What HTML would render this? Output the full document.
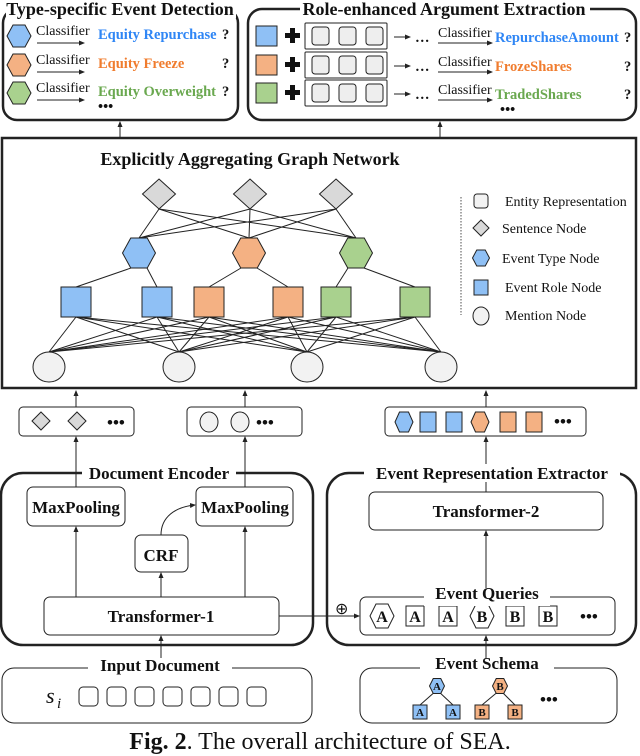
<!DOCTYPE html>
<html><head><meta charset="utf-8"><style>
html,body{margin:0;padding:0;background:#fff}
svg{display:block}
text{font-family:"Liberation Serif",serif}
.b{font-weight:bold}
</style></head><body>
<svg id="s" width="640" height="756" viewBox="0 0 640 756" xmlns="http://www.w3.org/2000/svg">
<defs><marker id="ah" markerWidth="6" markerHeight="6" refX="5" refY="3" orient="auto"><path d="M0,0.5 L6,3 L0,5.5 z" fill="#222"/></marker></defs>
<g id="g" stroke="#222" fill="none"></g>
<g id="t" fill="#111">
<rect x="6" y="0" width="230" height="18" fill="#fff" stroke="none"/>
<text x="120" y="15" font-size="18" class="b" text-anchor="middle">Type-specific Event Detection</text>
<rect x="300" y="0" width="290" height="18" fill="#fff" stroke="none"/>
<text x="444" y="15" font-size="18" class="b" text-anchor="middle">Role-enhanced Argument Extraction</text>
<g font-size="14">
<text x="36" y="35">Classifier</text><text x="36" y="64">Classifier</text><text x="36" y="92">Classifier</text>
<text x="438" y="37">Classifier</text><text x="438" y="66">Classifier</text><text x="438" y="94">Classifier</text>
</g>
<g font-size="14.5" class="b">
<text x="98" y="39" fill="#2f86f5">Equity Repurchase</text>
<text x="98" y="68" fill="#f07c2e">Equity Freeze</text>
<text x="98" y="96" fill="#6aa84f">Equity Overweight</text>
<text x="495" y="42" fill="#2f86f5">RepurchaseAmount</text>
<text x="495" y="71" fill="#f07c2e">FrozeShares</text>
<text x="495" y="99" fill="#6aa84f">TradedShares</text>
<text x="222" y="39">?</text><text x="222" y="68">?</text><text x="222" y="96">?</text>
<text x="624" y="42">?</text><text x="624" y="71">?</text><text x="624" y="99">?</text>
<text x="98" y="111">•••</text><text x="500" y="114">•••</text>
<text x="415" y="42">…</text><text x="415" y="71">…</text><text x="415" y="99">…</text>
</g>
<text x="250" y="165" font-size="18" class="b" text-anchor="middle">Explicitly Aggregating Graph Network</text>
<g font-size="14">
<text x="505" y="206">Entity Representation</text>
<text x="502" y="233">Sentence Node</text>
<text x="502" y="263">Event Type Node</text>
<text x="505" y="292">Event Role Node</text>
<text x="505" y="320">Mention Node</text>
</g>
<g font-size="17" class="b">
<text x="107" y="428">•••</text><text x="256" y="428">•••</text><text x="554" y="427">•••</text>
<rect x="82" y="464" width="154" height="18" fill="#fff"/>
<text x="159" y="479" text-anchor="middle">Document Encoder</text>
<rect x="364" y="464" width="256" height="18" fill="#fff"/>
<text x="492" y="479" text-anchor="middle">Event Representation Extractor</text>
<text x="76" y="513" text-anchor="middle">MaxPooling</text>
<text x="245" y="513" text-anchor="middle">MaxPooling</text>
<text x="161" y="561" text-anchor="middle">CRF</text>
<text x="161" y="622" text-anchor="middle">Transformer-1</text>
<text x="486" y="517" text-anchor="middle">Transformer-2</text>
<rect x="424" y="588" width="126" height="18" fill="#fff"/>
<text x="487" y="599" text-anchor="middle">Event Queries</text>
<text x="580" y="622">•••</text>
<rect x="88" y="658" width="144" height="18" fill="#fff"/>
<text x="160" y="671" text-anchor="middle">Input Document</text>
<rect x="420" y="658" width="134" height="18" fill="#fff"/>
<text x="487" y="669" text-anchor="middle">Event Schema</text>
<text x="540" y="705">•••</text>
</g>
<text x="335" y="614" font-size="16">⊕</text>
<text x="46" y="703" font-size="22" font-style="italic">s</text><text x="57" y="708" font-size="15" font-style="italic">i</text>
<g font-size="16" class="b" text-anchor="middle">
<text x="382" y="622">A</text><text x="415" y="622">A</text><text x="448" y="622">A</text>
<text x="482" y="622">B</text><text x="515" y="622">B</text><text x="548" y="622">B</text>
</g>
<g font-size="11" class="b" text-anchor="middle">
<text x="437" y="690">A</text><text x="420" y="716">A</text><text x="453" y="716">A</text>
<text x="500" y="690">B</text><text x="482" y="716">B</text><text x="515" y="716">B</text>
</g>
<text x="320" y="749" font-size="24" text-anchor="middle"><tspan font-weight="bold">Fig. 2</tspan>.  The overall architecture of SEA.</text>
</g>
</svg>
<script>
var g=document.getElementById('g'),NS='http://www.w3.org/2000/svg';
function el(n,a,p){var e=document.createElementNS(NS,n);for(var k in a)e.setAttribute(k,a[k]);(p||g).appendChild(e);return e;}
function rr(x,y,w,h,r,sw,f){return el('rect',{x:x,y:y,width:w,height:h,rx:r,'stroke-width':sw||1,fill:f||'#fff'});}
function ln(x1,y1,x2,y2,sw,arr){var a={x1:x1,y1:y1,x2:x2,y2:y2,'stroke-width':sw||1};if(arr)a['marker-end']='url(#ah)';return el('line',a);}
function hex(cx,cy,w,h,f,sw){var p=[[cx-w/2,cy],[cx-w/4,cy-h/2],[cx+w/4,cy-h/2],[cx+w/2,cy],[cx+w/4,cy+h/2],[cx-w/4,cy+h/2]];return el('polygon',{points:p.join(' '),fill:f,'stroke-width':sw||1});}
function dia(cx,cy,w,h,f){return el('polygon',{points:[[cx,cy-h/2],[cx+w/2,cy],[cx,cy+h/2],[cx-w/2,cy]].join(' '),fill:f});}
var B='#8fc0f5',O='#f4b183',G='#a9d18e';
ln(120,138,120,122,1,1);ln(440,138,440,122,1,1);
rr(3,9,235,111,14,2.5);rr(248,9,388,111,14,2.5);
var ys=[36,65,93],cols=[B,O,G];
for(var i=0;i<3;i++){var y=ys[i];
 hex(19,y,24,22,cols[i]);ln(37,y+7,84,y+7,1,1);
 rr(256,y-10,21,20,0,1,cols[i]);
 el('path',{d:'M290,'+(y-8)+'h5v5h5v5h-5v5h-5v-5h-5v-5h5z',fill:'#111',stroke:'none'});
 rr(305,y-13,82,26,1,1);
 for(var j=0;j<3;j++)rr(312+j*27,y-9,17,18,3,1,'#eee');
 ln(394,y+1,410,y+1,1,1);ln(438,y+7,492,y+7,1,1);
}
rr(2,138,634,250,0,2.5);
var D=[159,250,336],H=[139,249,356],S=[76,157,209,288,336,415],C=[49,179,307,441];
for(var a=0;a<3;a++)for(var b=0;b<3;b++)ln(D[a],209,H[b],238);
for(var a=0;a<3;a++){ln(H[a]-8,268,S[2*a],287);ln(H[a]+8,268,S[2*a+1],287);}
for(var a=0;a<6;a++)for(var b=0;b<4;b++)ln(S[a],317,C[b],352);
for(var a=0;a<3;a++)dia(D[a],194,33,30,'#d9d9d9');
for(var a=0;a<3;a++)hex(H[a],253,33,30,cols[a]);
for(var a=0;a<6;a++)rr(S[a]-15,287,30,30,0,1,cols[Math.floor(a/2)]);
for(var a=0;a<4;a++)el('ellipse',{cx:C[a],cy:367,rx:16,ry:15,fill:'#f2f2f2'});
ln(461,197,461,315,0.8).setAttribute('stroke-dasharray','1.5,1.5');
rr(474,194,14,14,3,1,'#f2f2f2');dia(481,228,16,16,'#d9d9d9');hex(481,258,17,16,B);rr(474,280,14,15,0,1,B);
el('ellipse',{cx:481,cy:316,rx:8,ry:9,fill:'#f2f2f2'});
ln(76,407,76,391,1,1);ln(245,407,245,391,1,1);ln(486,407,486,391,1,1);
rr(19,407,115,29,4,1);rr(187,407,115,29,4,1);rr(385,407,201,29,4,1);
dia(41,421,18,18,'#d9d9d9');dia(77,421,18,18,'#d9d9d9');
el('ellipse',{cx:209,cy:422,rx:9,ry:10,fill:'#f2f2f2'});el('ellipse',{cx:240,cy:422,rx:9,ry:10,fill:'#f2f2f2'});
hex(404,422,18,20,B);rr(420,412,16,20,0,1,B);rr(446,412,16,20,0,1,B);hex(480,422,18,20,O);rr(500,412,16,20,0,1,O);rr(526,412,16,20,0,1,O);
rr(1,473,312,172,22,2.5);rr(327,473,309,172,22,2.5);
ln(76,488,76,437,1,1);ln(245,488,245,437,1,1);ln(486,492,486,437,1,1);
rr(27,487,98,39,6,1);rr(196,487,97,39,6,1);rr(135,535,53,37,6,1);
rr(44,597,235,38,6,1);rr(369,492,234,38,6,1);rr(360,597,255,38,6,1);
ln(76,597,76,527,1,1);ln(161,597,161,573,1,1);ln(245,597,245,527,1,1);ln(486,588,486,531,1,1);
el('path',{d:'M161,535 C161,517 175,507 195,505','marker-end':'url(#ah)'});
ln(279,616,359,616,1,1);
hex(382,616,24,24,'#fff');rr(406,606,18,20,0,1);rr(439,606,18,20,0,1);hex(482,616,24,24,'#fff');rr(506,606,18,20,0,1);rr(539,606,18,20,0,1);
ln(161,660,161,636,1,1);ln(486,660,486,636,1,1);
rr(2,668,310,55,12,1);rr(360,668,257,55,12,1);
for(var k=0;k<7;k++)rr(79+k*28,687,19,19,4,1);
ln(437,690,420,705);ln(437,690,453,705);ln(500,690,482,705);ln(500,690,515,705);
hex(437,686,15,15,B);hex(500,686,15,15,O);
rr(413,705,14,14,0,1,B);rr(446,705,14,14,0,1,B);rr(475,705,14,14,0,1,O);rr(508,705,14,14,0,1,O);
</script>
</body></html>
